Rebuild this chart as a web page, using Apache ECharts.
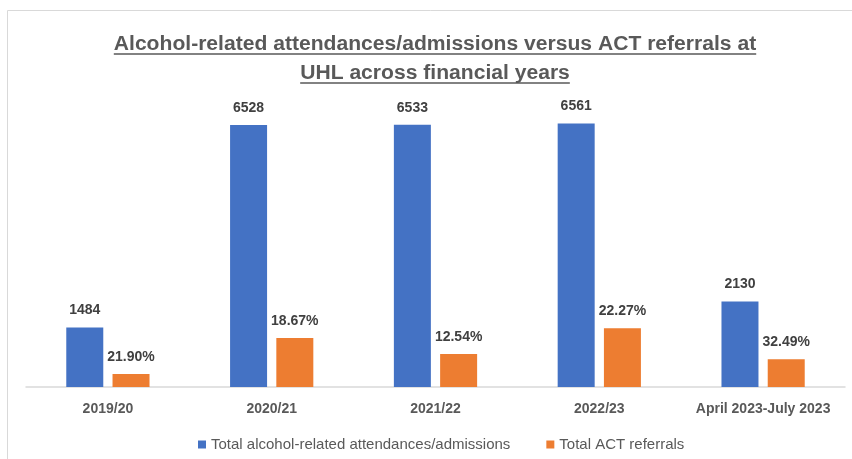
<!DOCTYPE html>
<html>
<head>
<meta charset="utf-8">
<script src="https://cdn.jsdelivr.net/npm/echarts@6/dist/echarts.min.js"></script>
<style>
  html, body { margin: 0; padding: 0; background: #fff; }
  #chart { width: 852px; height: 459px; }
</style>
</head>
<body>
<div id="chart"></div>
<script>
const categories = ['2019/20', '2020/21', '2021/22', '2022/23', 'April 2023-July 2023'];
const attendances = [1484, 6528, 6533, 6561, 2130];
// referral counts, labels show the share of attendances
const referrals = [325, 1219, 819, 1461, 692];
const referralPct = ['21.90%', '18.67%', '12.54%', '22.27%', '32.49%'];
const titleLines = ['Alcohol-related attendances/admissions versus ACT referrals at', 'UHL across financial years'];

const font = '"Liberation Sans", Arial, sans-serif';
const titleCenter = 435;

// fit title to the reference width and measure it for the underline
const ctx = document.createElement('canvas').getContext('2d');
ctx.font = 'bold 20px ' + font;
const titleSize = Math.round(20 * 644 / ctx.measureText(titleLines[0]).width * 10) / 10;
ctx.font = 'bold ' + titleSize + 'px ' + font;
const w1 = ctx.measureText(titleLines[0]).width;
const w2 = ctx.measureText(titleLines[1]).width;

const chart = echarts.init(document.getElementById('chart'));

const option = {
  animation: false,
  title: {
    text: titleLines.join('\n'),
    left: titleCenter,
    top: 30,
    padding: 0,
    textAlign: 'center',
    textStyle: {
      fontFamily: font,
      fontSize: titleSize,
      fontWeight: 'bold',
      color: '#595959',
      lineHeight: 29
    }
  },
  graphic: [
    { type: 'rect', shape: { x: 7.5, y: 10.5, width: 900, height: 500 },
      style: { fill: 'none', stroke: '#d9d9d9', lineWidth: 1 }, silent: true },
    { type: 'line', shape: { x1: titleCenter - w1 / 2, y1: 54, x2: titleCenter + w1 / 2, y2: 54 },
      style: { stroke: '#595959', lineWidth: 1.5 }, silent: true },
    { type: 'line', shape: { x1: titleCenter - w2 / 2, y1: 83, x2: titleCenter + w2 / 2, y2: 83 },
      style: { stroke: '#595959', lineWidth: 1.5 }, silent: true }
  ],
  legend: {
    bottom: 2,
    left: 193,
    itemWidth: 8,
    itemHeight: 8,
    itemGap: 36,
    icon: 'rect',
    textStyle: { fontFamily: font, fontSize: 15, color: '#595959' },
    data: ['Total alcohol-related attendances/admissions', 'Total ACT referrals']
  },
  grid: { left: 26, right: 7, top: 106, bottom: 72 },
  xAxis: {
    type: 'category',
    data: categories,
    axisTick: { show: false },
    axisLine: { lineStyle: { color: '#d9d9d9', width: 1.5 } },
    axisLabel: {
      interval: 0,
      margin: 15,
      fontFamily: font,
      fontSize: 14,
      fontWeight: 'bold',
      color: '#595959'
    }
  },
  yAxis: {
    type: 'value',
    min: 0,
    max: 7000,
    show: false,
    splitLine: { show: false }
  },
  series: [
    {
      name: 'Total alcohol-related attendances/admissions',
      type: 'bar',
      data: attendances,
      barWidth: 37,
      barGap: '25%',
      itemStyle: { color: '#4472C4' },
      label: {
        show: true,
        position: 'top',
        distance: 10,
        fontFamily: font,
        fontSize: 14,
        fontWeight: 'bold',
        color: '#404040'
      }
    },
    {
      name: 'Total ACT referrals',
      type: 'bar',
      data: referrals,
      barWidth: 37,
      itemStyle: { color: '#ED7D31' },
      label: {
        show: true,
        position: 'top',
        distance: 10,
        fontFamily: font,
        fontSize: 14,
        fontWeight: 'bold',
        color: '#404040',
        formatter: p => referralPct[p.dataIndex]
      }
    }
  ]
};

chart.setOption(option);
</script>
</body>
</html>
